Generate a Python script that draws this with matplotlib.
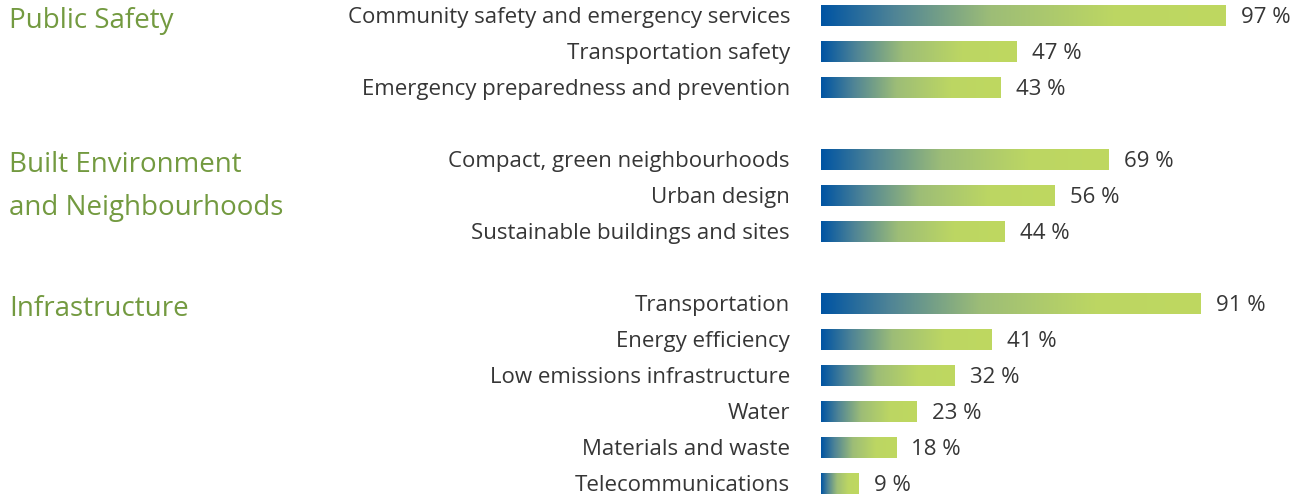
import matplotlib.pyplot as plt
import numpy as np
from matplotlib.colors import LinearSegmentedColormap
from matplotlib.transforms import blended_transform_factory

plt.rcParams['font.family'] = ['Open Sans', 'DejaVu Sans']

groups = ["Public Safety", "Built Environment\nand Neighbourhoods", "Infrastructure"]
group_items = [
    ["Community safety and emergency services", "Transportation safety",
     "Emergency preparedness and prevention"],
    ["Compact, green neighbourhoods", "Urban design", "Sustainable buildings and sites"],
    ["Transportation", "Energy efficiency", "Low emissions infrastructure", "Water",
     "Materials and waste", "Telecommunications"],
]
group_values = [
    [97, 47, 43],
    [69, 56, 44],
    [91, 41, 32, 23, 18, 9],
]

W, H = 1306, 499
fig = plt.figure(figsize=(W / 100, H / 100), dpi=100)

# layout in pixels
x0 = 821          # bar start
ppu = 4.17        # pixels per percent
row0 = 15.5       # first row centre
step = 36.0       # row pitch
ax = fig.add_axes([x0 / W, 0, 1 - x0 / W, 1])
ax.axis('off')

cmap = LinearSegmentedColormap.from_list('grad', [
    (0.0, '#0054a3'), (0.18, '#4f8496'), (0.42, '#9dbd77'),
    (0.72, '#bcd663'), (1.0, '#bfd860')])
grad = np.linspace(0, 1, 256).reshape(1, -1)

bar_h = 0.56
label_x = -(x0 - 790) / ppu
tr = blended_transform_factory(fig.transFigure, ax.transData)

r = 0
for g, items, vals in zip(groups, group_items, group_values):
    for k, line in enumerate(g.split('\n')):
        fig.text(9 / W, r + 0.14 + k * 1.2, line, transform=tr, fontsize=20,
                 color='#739a40', va='center', ha='left')
    for name, v in zip(items, vals):
        ax.imshow(grad, cmap=cmap, aspect='auto', interpolation='bilinear',
                  extent=[0, v, r + bar_h / 2, r - bar_h / 2])
        ax.text(label_x, r + 0.05, name, ha='right', va='center', fontsize=16,
                color='#363636', clip_on=False)
        ax.text(v + 3.7, r + 0.05, f"{v} %", ha='left', va='center', fontsize=16,
                color='#363636')
        r += 1
    r += 1

ax.set_xlim(0, (W - x0) / ppu)
ax.set_ylim((H - row0) / step, -row0 / step)
fig.savefig('out.png', dpi=100)
